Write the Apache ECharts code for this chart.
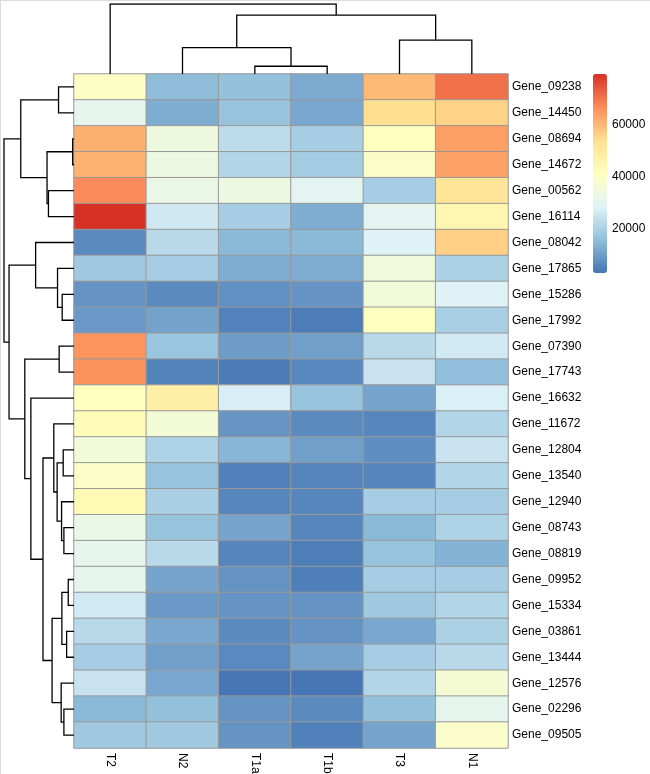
<!DOCTYPE html>
<html>
<head>
<meta charset="utf-8">
<script src="https://cdn.jsdelivr.net/npm/echarts@6/dist/echarts.min.js"></script>
<style>
html,body{margin:0;padding:0;background:#fff;}
#chart{position:absolute;left:0;top:0;width:650px;height:774px;}
#frame{position:absolute;left:0;top:0;width:650px;height:774px;box-sizing:border-box;border-top:1px solid #dcdcdc;border-left:1px solid #dcdcdc;pointer-events:none;}
</style>
</head>
<body>
<div id="chart"></div>
<div id="frame"></div>
<script>
// ---- data ----
const columns = ['T2', 'N2', 'T1a', 'T1b', 'T3', 'N1'];
const genes = ['Gene_09238','Gene_14450','Gene_08694','Gene_14672','Gene_00562','Gene_16114','Gene_08042','Gene_17865','Gene_15286','Gene_17992','Gene_07390','Gene_17743','Gene_16632','Gene_11672','Gene_12804','Gene_13540','Gene_12940','Gene_08743','Gene_08819','Gene_09952','Gene_15334','Gene_03861','Gene_13444','Gene_12576','Gene_02296','Gene_09505'];
// values per gene, in column order T2, N2, T1a, T1b, T3, N1
const valT2  = [40000,31000,61500,61000,67000,79500, 6500,18000, 8000, 9000,65500,66000,41000,42500,35500,39500,43500,32500,30500,30500,26000,22000,19000,24500,14500,18000];
const valN2  = [15000,12500,34000,33500,32500,25500,22000,19000, 6500,10500,17000, 5200,48000,36000,20500,16500,19500,16500,22000,11000, 9000,11500,10000,11500,16000,18000];
const valT1a = [16000,16500,22500,21000,33500,19000,14500,12500, 7500, 5000, 9500, 4000,27000, 8500,14000, 4800, 5800,11000, 5600, 8000, 8000, 6500, 6200, 3000, 8000, 8000];
const valT1b = [12000,11500,19000,18500,30000,12500,14500,12500, 8000, 4200,10000, 6000,16500, 6500,10000, 5500, 5800, 5800, 4500, 4500, 8000, 8000,11000, 3000, 6500, 4800];
const valT3  = [60000,54000,41000,39500,19000,30000,28000,35000,35500,41000,22000,24500,11000, 5800, 7200, 5500,19000,14500,16500,19000,18000,11500,19000,21000,16000,11000];
const valN1  = [70500,56000,64000,63500,52000,45000,56500,20000,28000,19500,26000,15500,27500,21000,24500,21000,19000,20500,13500,19000,21000,20000,22000,36500,30500,39000];
// colour scale
const scaleMin = 2800, scaleMax = 79500;
const scaleTicks = [20000, 40000, 60000];
const palette = ['#4575B4','#91BFDB','#E0F3F8','#FFFFBF','#FEE090','#FC8D59','#D73027'];
// hierarchical clustering merges (hclust style: negative = leaf in display order, positive = earlier merge), heights
const rowMerges = [
  [-3,-4,1.3],[-20,-21,5.7],[-22,-23,7.3],[-18,-19,10],[-25,-26,10],[-15,-16,10.7],[-9,-10,11.7],
  [2,3,12],[-17,4,12.3],[-24,5,12.7],[-11,-12,14.7],[-1,-2,15.3],[-8,7,16.3],[6,9,16.7],
  [-14,14,20],[8,10,21.7],[-5,-6,25.3],[1,17,26.7],[15,16,30.7],[-7,13,38],[-13,19,42.7],
  [11,21,48.7],[12,18,52.7],[20,22,64.3],[23,24,69.3]
];
const colMerges = [[-3,-4,7.7],[-2,1,26.3],[-5,-6,33.7],[2,3,58.7],[-1,4,69.7]];

// ---- build ----
const columnValues = [valT2, valN2, valT1a, valT1b, valT3, valN1];
const heatData = [];
columnValues.forEach((arr, c) => arr.forEach((v, r) => heatData.push([c, r, v])));

function treeSegments(merges, swap) {
  const pos = [], hts = [], segs = [];
  const get = (id) => id < 0 ? [(-id) - 0.5, 0] : [pos[id - 1], hts[id - 1]];
  merges.forEach((m) => {
    const a = get(m[0]), b = get(m[1]), H = m[2];
    pos.push((a[0] + b[0]) / 2); hts.push(H);
    const pts = [[a[0], a[1]], [a[0], H], [b[0], H], [b[0], b[1]]];
    segs.push({coords: pts.map(p => swap ? [p[1], p[0]] : p)});
  });
  return {segs, maxH: hts[hts.length - 1]};
}
const rowTree = treeSegments(rowMerges, true);
const colTree = treeSegments(colMerges, false);

const FONT = 'Liberation Sans, Arial, sans-serif';
const hmL = 74, hmT = 74, hmW = 434, hmH = 674;

const chart = echarts.init(document.getElementById('chart'), null, {renderer: 'canvas'});
chart.setOption({
  animation: false,
  backgroundColor: '#fff',
  grid: [
    {left: hmL, top: hmT, width: hmW, height: hmH, outerBoundsMode: 'none', containLabel: false},
    {left: 4, top: hmT, width: hmL - 4, height: hmH, outerBoundsMode: 'none', containLabel: false},
    {left: hmL, top: 4, width: hmW, height: hmT - 4, outerBoundsMode: 'none', containLabel: false},
    {left: 593, top: 74, width: 14, height: 199, outerBoundsMode: 'none', containLabel: false}
  ],
  xAxis: [
    {gridIndex: 0, type: 'category', data: columns, position: 'bottom',
     axisLine: {show: false}, axisTick: {show: false}, splitLine: {show: false},
     axisLabel: {rotate: -90, margin: 5, color: '#000', fontSize: 12, fontFamily: FONT}},
    {gridIndex: 1, type: 'value', min: 0, max: rowTree.maxH, inverse: true, show: false},
    {gridIndex: 2, type: 'value', min: 0, max: columns.length, show: false},
    {gridIndex: 3, type: 'value', min: 0, max: 1, show: false}
  ],
  yAxis: [
    {gridIndex: 0, type: 'category', data: genes, inverse: true, position: 'right',
     axisLine: {show: false}, axisTick: {show: false}, splitLine: {show: false},
     axisLabel: {margin: 4, padding: [4, 0, 0, 0], color: '#000', fontSize: 12, fontFamily: FONT}},
    {gridIndex: 1, type: 'value', min: 0, max: genes.length, inverse: true, show: false},
    {gridIndex: 2, type: 'value', min: 0, max: colTree.maxH, show: false},
    {gridIndex: 3, type: 'value', min: scaleMin, max: scaleMax, position: 'right',
     axisLine: {show: false}, axisTick: {show: false}, splitLine: {show: false},
     axisLabel: {customValues: scaleTicks, margin: 5, padding: [0, 0, 3, 0], color: '#000', fontSize: 12, fontFamily: FONT,
                 formatter: (v) => String(v)}}
  ],
  visualMap: {
    type: 'continuous', seriesIndex: 0, min: scaleMin, max: scaleMax,
    inRange: {color: palette}, calculable: false, orient: 'vertical',
    left: 593, top: 74, itemWidth: 14, itemHeight: 199, padding: 0,
    text: null, showLabel: false, hoverLink: false
  },
  series: [
    {type: 'heatmap', xAxisIndex: 0, yAxisIndex: 0, data: heatData, silent: true,
     itemStyle: {borderColor: '#999999', borderWidth: 1}},
    {type: 'lines', coordinateSystem: 'cartesian2d', xAxisIndex: 1, yAxisIndex: 1, polyline: true,
     silent: true, data: rowTree.segs, lineStyle: {color: '#000', width: 1.3, opacity: 1}},
    {type: 'lines', coordinateSystem: 'cartesian2d', xAxisIndex: 2, yAxisIndex: 2, polyline: true,
     silent: true, data: colTree.segs, lineStyle: {color: '#000', width: 1.3, opacity: 1}},
    {type: 'scatter', xAxisIndex: 3, yAxisIndex: 3, data: [], silent: true}
  ]
});
</script>
</body>
</html>
